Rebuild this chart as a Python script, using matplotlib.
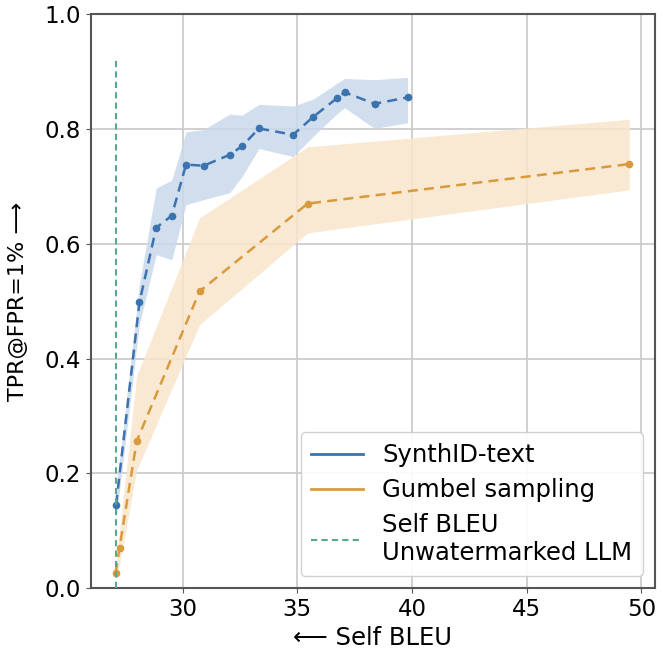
import matplotlib
matplotlib.use("Agg")
import matplotlib.pyplot as plt

# SynthID-text
synth_x = [27.1, 28.12, 28.85, 29.53, 30.15, 30.92, 32.05, 32.59, 33.33, 34.82, 35.69, 36.74, 37.07, 38.37, 39.81]
synth_y = [0.145, 0.498, 0.628, 0.649, 0.738, 0.736, 0.755, 0.770, 0.801, 0.790, 0.821, 0.854, 0.864, 0.844, 0.855]
synth_lo = [0.12, 0.46, 0.581, 0.572, 0.668, 0.677, 0.689, 0.717, 0.766, 0.752, 0.787, 0.827, 0.837, 0.801, 0.811]
synth_hi = [0.17, 0.53, 0.697, 0.711, 0.795, 0.799, 0.826, 0.824, 0.843, 0.840, 0.852, 0.880, 0.888, 0.886, 0.890]

# Gumbel sampling
gum_x = [27.08, 27.25, 28.0, 30.74, 35.45, 49.48]
gum_y = [0.026, 0.070, 0.256, 0.517, 0.670, 0.739]
gum_lo = [0.02, 0.04, 0.205, 0.459, 0.619, 0.694]
gum_hi = [0.03, 0.10, 0.37, 0.645, 0.769, 0.817]

# Unwatermarked LLM self BLEU
unwm_x = 27.1
unwm_ymax = 0.925

blue = "#3b73b0"
blue_fill = "#c9d9ec"
orange = "#d89a3c"
orange_fill = "#f8e6cc"
green = "#5aa88a"

fig = plt.figure(figsize=(6.63, 6.49), dpi=100)
ax = fig.add_axes([0.137, 0.094, 0.851, 0.884])

ax.fill_between(synth_x, synth_lo, synth_hi, color=blue_fill, alpha=0.85, lw=0, zorder=2)
ax.fill_between(gum_x, gum_lo, gum_hi, color=orange_fill, alpha=0.85, lw=0, zorder=1)
ax.plot(synth_x, synth_y, ls="--", color=blue, marker="o", ms=4.5, lw=1.8, dashes=(4, 2.5), zorder=4)
ax.plot(gum_x, gum_y, ls="--", color=orange, marker="o", ms=4.5, lw=1.8, dashes=(4, 2.5), zorder=3)
ax.plot([unwm_x, unwm_x], [0, unwm_ymax], ls="--", color=green, lw=1.5, dashes=(3, 2), zorder=5)

ax.plot([], [], color=blue, lw=2, label="SynthID-text")
ax.plot([], [], color=orange, lw=2, label="Gumbel sampling")
ax.plot([], [], color=green, lw=1.5, ls="--", dashes=(3, 2), label="Self BLEU\nUnwatermarked LLM")

ax.set_xlim(26.0, 50.6)
ax.set_ylim(0.0, 1.0)
ax.set_xticks([30, 35, 40, 45, 50])
ax.set_yticks([0.0, 0.2, 0.4, 0.6, 0.8, 1.0])
ax.tick_params(labelsize=16.5, color="#555555")
ax.grid(True, color="#c8c8c8", lw=1.2, zorder=0)
ax.set_axisbelow(True)
for s in ax.spines.values():
    s.set_color("#555555")
    s.set_linewidth(1.5)

ax.set_xlabel("⟵ Self BLEU", fontsize=17.5, labelpad=4)
ax.set_ylabel("TPR@FPR=1% ⟶", fontsize=16, labelpad=12)

leg = ax.legend(loc="lower right", fontsize=17.5, handlelength=2.1, framealpha=0.9,
                borderpad=0.45, labelspacing=0.45, borderaxespad=0.5)

fig.savefig("out.png", dpi=100)
